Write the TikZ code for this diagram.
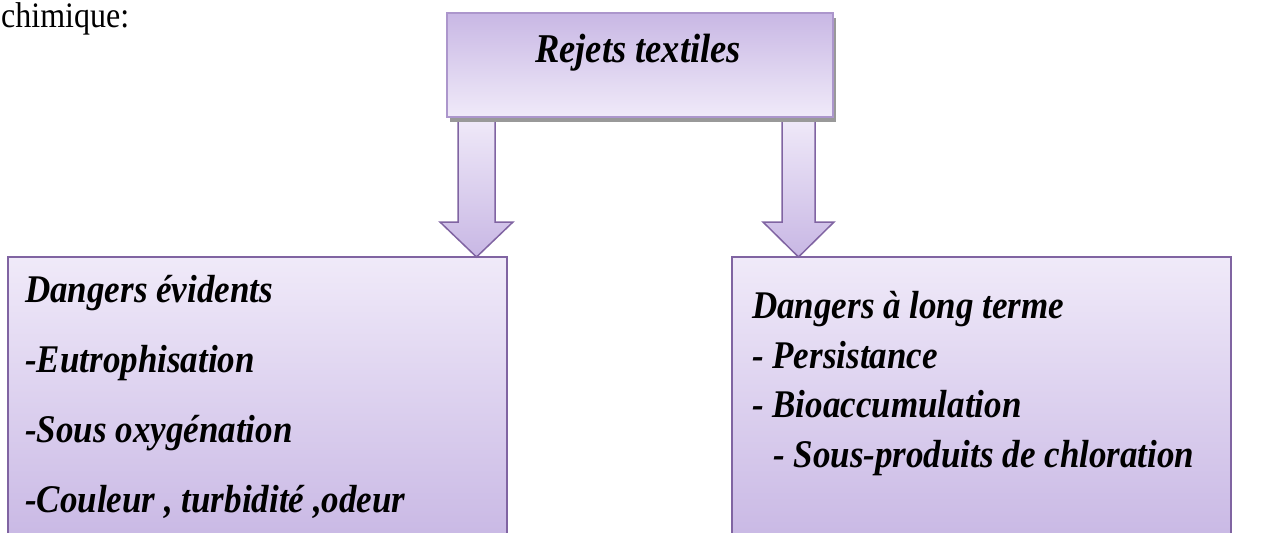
\documentclass[tikz,border=0pt]{standalone}
\usepackage{fontspec}
\usepackage{graphicx}
\setmainfont{Liberation Serif}
\usetikzlibrary{shadows}
\definecolor{lavdark}{RGB}{200,183,228}
\definecolor{lavlight}{RGB}{240,234,249}
\definecolor{lavborder}{RGB}{128,100,162}
\definecolor{lavborderlight}{RGB}{172,150,204}
\newcommand{\vstretch}[1]{\scalebox{1}[1.12]{#1}}
\tikzset{
  topbox/.style={rectangle, draw=lavborderlight, line width=2pt, top color=lavdark, bottom color=lavlight,
    minimum width=386pt, minimum height=104pt, inner sep=0pt,
    drop shadow={shadow xshift=3pt, shadow yshift=-5pt, fill=black!40, opacity=1}},
  lowbox/.style={rectangle, draw=lavborder, line width=1.5pt, top color=lavlight, bottom color=lavdark,
    minimum width=499pt, minimum height=290pt, inner sep=0pt},
  bigarrow/.style={draw=lavborder, line width=1.5pt, line join=miter, top color=lavlight, bottom color=lavdark},
  lbl/.style={anchor=base west, inner sep=0pt, font=\fontsize{35}{42}\selectfont\bfseries\itshape},
}
\begin{document}
\begin{tikzpicture}[x=1pt,y=-1pt]
\useasboundingbox (0,0) rectangle (1270,533);
\node[anchor=base west, inner sep=0pt, font=\fontsize{32}{38}\selectfont] (chim) at (1,27) {\vstretch{chimique:}};
% lower boxes (extend beyond page bottom)
\node[lowbox] (L) at (257.5,402) {};
\node[lowbox] (R) at (981.5,402) {};
% arrow end points
\coordinate (a1s) at (476.5,116);
\coordinate (a1e) at (476.5,257);
\coordinate (a2s) at (798.5,116);
\coordinate (a2e) at (798.5,257);
% arrows
\draw[bigarrow] (a1s) ++(-18.5,0) -- ++(0,106) -- ++(-18,0) -- (a1e) -- ++(36.5,-35) -- ++(-18,0) -- ++(0,-106) -- cycle;
\draw[bigarrow] (a2s) ++(-16.5,0) -- ++(0,106) -- ++(-19,0) -- (a2e) -- ++(35.5,-35) -- ++(-19,0) -- ++(0,-106) -- cycle;
% top box
\node[topbox] (T) at (640,64.5) {};
\node[lbl, anchor=base, font=\fontsize{36.5}{42}\selectfont\bfseries\itshape] (tt) at (638,62) {\vstretch{Rejets textiles}};
% left texts
\node[lbl] (l1) at (25,302) {\vstretch{Dangers évidents}};
\node[lbl] (l2) at (25,372) {\vstretch{-Eutrophisation}};
\node[lbl] (l3) at (25,442) {\vstretch{-Sous oxygénation}};
\node[lbl] (l4) at (25,512) {\vstretch{-Couleur , turbidité ,odeur}};
% right texts
\node[lbl] (r1) at (752,318) {\vstretch{Dangers à long terme}};
\node[lbl] (r2) at (752,368) {\vstretch{- Persistance}};
\node[lbl] (r3) at (752,417) {\vstretch{- Bioaccumulation}};
\node[lbl] (r4) at (773,467) {\vstretch{- Sous-produits de chloration}};
\end{tikzpicture}
\end{document}
